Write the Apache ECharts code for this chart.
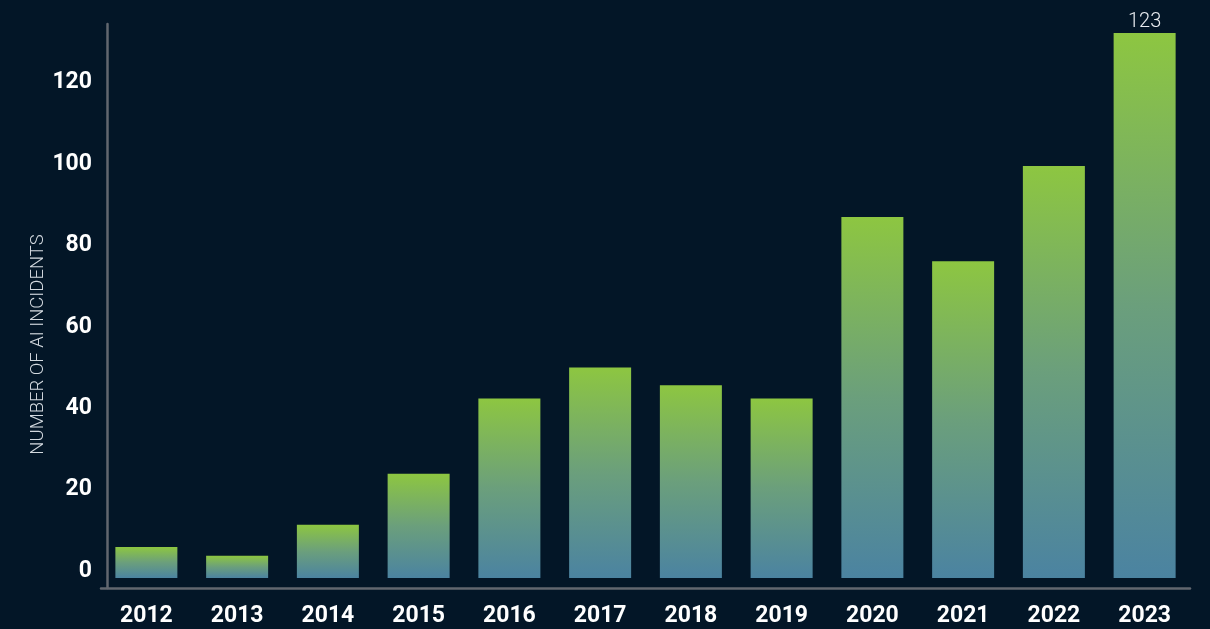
<!DOCTYPE html>
<html>
<head>
<meta charset="utf-8">
<script src="https://cdn.jsdelivr.net/npm/echarts@6/dist/echarts.min.js"></script>
<style>
  html, body { margin: 0; padding: 0; background: #031627; }
  #chart { width: 1210px; height: 629px; }
</style>
</head>
<body>
<div id="chart"></div>
<script>
const years = ['2012', '2013', '2014', '2015', '2016', '2017', '2018', '2019', '2020', '2021', '2022', '2023'];
const incidents = [7, 5, 12, 23.5, 40.5, 47.5, 43.5, 40.5, 81.5, 71.5, 93, 123];
const yTickLabels = [0, 20, 40, 60, 80, 100, 120];
const axisTitle = 'NUMBER OF AI INCIDENTS';

const chart = echarts.init(document.getElementById('chart'));

const barData = incidents.map((v, i) => ({
  value: v,
  label: { show: i === incidents.length - 1 }
}));

chart.setOption({
  backgroundColor: '#031627',
  animation: false,
  grid: { left: 101, right: 20, top: 24, bottom: 41, containLabel: false },
  xAxis: {
    type: 'category',
    data: years,
    axisLine: { onZero: false, lineStyle: { color: '#62676f', width: 2.5 } },
    axisTick: { show: false },
    axisLabel: {
      color: '#ffffff',
      fontFamily: 'Roboto',
      fontWeight: 'bold',
      fontSize: 23,
      margin: 17
    }
  },
  yAxis: [
    {
      type: 'value',
      position: 'left',
      offset: -6,
      min: -4.18,
      max: 134.39,
      splitNumber: 7,
      splitLine: { show: false },
      axisTick: { show: false },
      axisLine: { show: true, lineStyle: { color: '#62676f', width: 2.5 } },
      axisLabel: {
        color: '#ffffff',
        fontFamily: 'Roboto',
        fontWeight: 'bold',
        fontSize: 23,
        margin: 15,
        formatter: function (v) {
          const r = Math.round(v);
          if (Math.abs(v - r) < 1e-6 && yTickLabels.indexOf(r) >= 0) return String(r);
          return '';
        }
      }
    },
    {
      type: 'value',
      position: 'left',
      show: false,
      min: -2.257,
      max: 125.03,
      splitLine: { show: false }
    }
  ],
  graphic: [
    {
      type: 'text',
      x: 38,
      y: 344.5,
      rotation: Math.PI / 2,
      style: {
        text: axisTitle,
        fill: '#d3d9df',
        font: '300 18.5px Roboto',
        align: 'center',
        verticalAlign: 'middle'
      }
    }
  ],
  series: [
    {
      type: 'bar',
      yAxisIndex: 1,
      data: barData,
      barWidth: 62,
      itemStyle: {
        color: new echarts.graphic.LinearGradient(0, 0, 0, 1, [
          { offset: 0, color: '#8dc641' },
          { offset: 0.5, color: '#6b9f7c' },
          { offset: 1, color: '#4b83a1' }
        ])
      },
      label: {
        position: 'top',
        distance: 1,
        color: '#e8ebef',
        fontFamily: 'Roboto',
        fontWeight: 300,
        fontSize: 20
      }
    }
  ]
});
</script>
</body>
</html>
